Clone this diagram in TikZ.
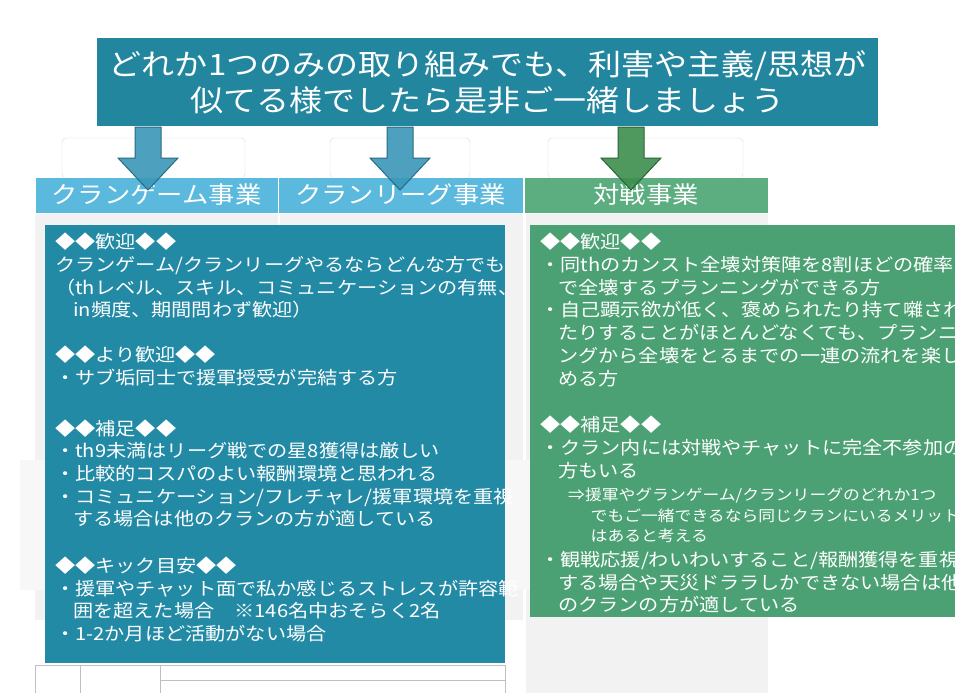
\documentclass[tikz,border=0pt]{standalone}
\usepackage{fontspec}
\setmainfont[FakeStretch=1.12]{Noto Sans CJK JP}
\begin{document}
\begin{tikzpicture}[x=1pt,y=-1pt,
  title/.style={fill=titleC,text=white,font=\fontsize{29.5}{36}\selectfont,align=center,inner sep=0},
  hdr/.style={draw=white,line width=0.6pt,text=white,font=\fontsize{23.5}{26}\selectfont,inner sep=0},
  body/.style={anchor=north west,text=white,font=\fontsize{18}{22.7}\selectfont,align=left,inner sep=0},
  faint/.style={fill=black!5},
  arr/.style={line width=1pt,line join=miter}]
\definecolor{titleC}{HTML}{23869F}
\definecolor{blueBox}{HTML}{238AA5}
\definecolor{greenBox}{HTML}{4CA174}
\definecolor{hdrBlue}{HTML}{5BB9DD}
\definecolor{hdrGreen}{HTML}{5CAD80}
\definecolor{arrBlue}{HTML}{3A97B9}
\definecolor{arrGreen}{HTML}{3C8E4E}
\useasboundingbox (0,0) rectangle (966,693);
\fill[white] (0,0) rectangle (966,693);
% faded background
\fill[faint] (35,213) rectangle (278,620);
\fill[faint] (280,213) rectangle (523,620);
\fill[faint] (526,213) rectangle (768,693);
\fill[black!3] (20,460) rectangle (740,590);
\draw[black!15,rounded corners=4] (62,138) rectangle (245,178);
\draw[black!15,rounded corners=4] (330,138) rectangle (470,178);
\draw[black!15,rounded corners=4] (548,138) rectangle (743,178);
\draw[black!25] (35,665) rectangle (505,693);
\draw[black!25] (80,665) -- (80,693) (160,665) -- (160,693) (160,680) -- (505,680);
% title
\node[title,minimum width=781,minimum height=88] (t) at (487.5,82) {どれか1つのみの取り組みでも、利害や主義/思想が\\似てる様でしたら是非ご一緒しましょう};
% headers
\node[hdr,fill=hdrBlue,minimum width=243,minimum height=36] (h1) at (156.5,195) {クランゲーム事業};
\node[hdr,fill=hdrBlue,minimum width=245,minimum height=36] (h2) at (400.5,195) {クランリーグ事業};
\node[hdr,fill=hdrGreen,minimum width=244,minimum height=36] (h3) at (646,195) {対戦事業};
% arrows
\foreach \cx/\c in {148/arrBlue,400/arrBlue,631/arrGreen}{
  \draw[arr,draw=\c!70!black,fill=\c,fill opacity=0.9]
   (\cx-13,127) -- (\cx+13,127) -- (\cx+13,158) -- (\cx+30,158) -- (\cx,190) -- (\cx-30,158) -- (\cx-13,158) -- cycle;}
% body boxes
\fill[blueBox] (45,225) rectangle (505,663);
\fill[greenBox] (530,225) rectangle (955,617);
\node[body] (lb) at (55,233) {◆◆歓迎◆◆\\
クランゲーム/クランリーグやるならどんな方でも\\
（thレベル、スキル、コミュニケーションの有無、\\
\hspace*{1em}in頻度、期間問わず歓迎）\\[22pt]
◆◆より歓迎◆◆\\
・サブ垢同士で援軍授受が完結する方\\[28pt]
◆◆補足◆◆\\
・th9未満はリーグ戦での星8獲得は厳しい\\
・比較的コスパのよい報酬環境と思われる\\
・コミュニケーション/フレチャレ/援軍環境を重視\\
\hspace*{1em}する場合は他のクランの方が適している\\[24pt]
◆◆キック目安◆◆\\
・援軍やチャット面で私か感じるストレスが許容範\\
\hspace*{1em}囲を超えた場合　※146名中おそらく2名\\
・1-2か月ほど活動がない場合};
\node[body] (rb) at (540,233) {◆◆歓迎◆◆\\
・同thのカンスト全壊対策陣を8割ほどの確率\\
\hspace*{1em}で全壊するプランニングができる方\\
・自己顕示欲が低く、褒められたり持て囃され\\
\hspace*{1em}たりすることがほとんどなくても、プランニ\\
\hspace*{1em}ングから全壊をとるまでの一連の流れを楽し\\
\hspace*{1em}める方\\[24pt]
◆◆補足◆◆\\
・クラン内には対戦やチャットに完全不参加の\\
\hspace*{1em}方もいる};
\node[body,font=\fontsize{15}{20.5}\selectfont] (rn) at (568,488) {⇒援軍やグランゲーム/クランリーグのどれか1つ\\
\hspace*{1.5em}でもご一緒できるなら同じクランにいるメリット\\
\hspace*{1.5em}はあると考える};
\node[body] (rc) at (540,551) {・観戦応援/わいわいすること/報酬獲得を重視\\
\hspace*{1em}する場合や天災ドララしかできない場合は他\\
\hspace*{1em}のクランの方が適している};
\end{tikzpicture}
\end{document}
